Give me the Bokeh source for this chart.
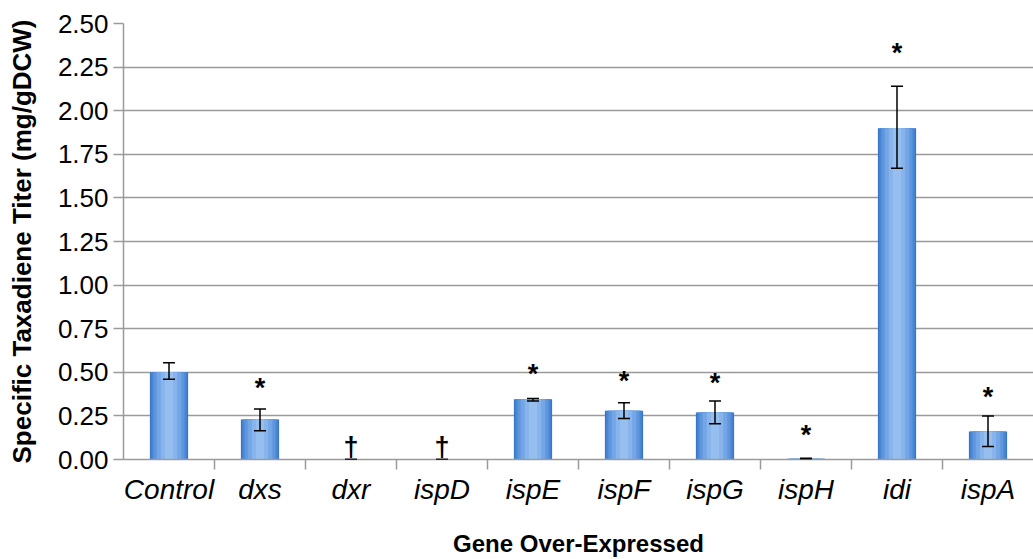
from bokeh.plotting import figure
from bokeh.models import ColumnDataSource, Range1d, FixedTicker, Whisker, NumeralTickFormatter, TeeHead
from bokeh.core.properties import value
from bokeh.embed import file_html
from bokeh.resources import INLINE

genes = ["Control", "dxs", "dxr", "ispD", "ispE", "ispF", "ispG", "ispH", "idi", "ispA"]
titer = [0.50, 0.23, 0.0, 0.0, 0.345, 0.28, 0.27, 0.005, 1.90, 0.16]
err_low = [0.46, 0.165, 0.0, 0.0, 0.335, 0.235, 0.205, 0.003, 1.67, 0.075]
err_high = [0.555, 0.29, 0.0, 0.0, 0.35, 0.325, 0.335, 0.007, 2.14, 0.25]
marks = ["", "*", "†", "†", "*", "*", "*", "*", "*", "*"]
mark_y = [0.0, 0.41, 0.07, 0.07, 0.49, 0.45, 0.44, 0.14, 2.33, 0.36]
y_ticks = [0.0, 0.25, 0.5, 0.75, 1.0, 1.25, 1.5, 1.75, 2.0, 2.25, 2.5]

xs = list(range(len(genes)))
FONT = "Liberation Sans"
GRID = "#9a9a9a"

p = figure(width=1033, height=559, output_backend="svg", toolbar_location=None,
           x_range=Range1d(-0.5, len(genes) - 0.5), y_range=Range1d(0, 2.5),
           min_border_left=123, min_border_right=0, min_border_top=23, min_border_bottom=0)
p.outline_line_color = None
p.background_fill_color = "white"

# y axis
p.yaxis.ticker = FixedTicker(ticks=y_ticks, minor_ticks=[])
p.yaxis.formatter = NumeralTickFormatter(format="0.00")
p.yaxis.axis_line_color = GRID
p.yaxis.axis_line_width = 1.5
p.yaxis.major_tick_line_color = GRID
p.yaxis.major_tick_line_width = 1.5
p.yaxis.major_tick_out = 10
p.yaxis.major_tick_in = 0
p.yaxis.major_label_standoff = 5
p.yaxis.major_label_text_font = FONT
p.yaxis.major_label_text_font_size = "26px"
p.yaxis.major_label_text_color = "black"
p.yaxis.axis_label = "Specific Taxadiene Titer (mg/gDCW)"
p.yaxis.axis_label_text_font = FONT
p.yaxis.axis_label_text_font_style = "bold"
p.yaxis.axis_label_text_font_size = "26px"
p.yaxis.axis_label_text_color = "black"
p.yaxis.axis_label_standoff = 18

# x axis
p.xaxis.ticker = FixedTicker(ticks=xs, minor_ticks=[i + 0.5 for i in xs[:-1]])
p.xaxis.major_label_overrides = {i: g for i, g in zip(xs, genes)}
p.xaxis.major_tick_line_color = None
p.xaxis.minor_tick_line_color = GRID
p.xaxis.minor_tick_line_width = 1.5
p.xaxis.minor_tick_out = 10
p.xaxis.minor_tick_in = 0
p.xaxis.axis_line_color = GRID
p.xaxis.axis_line_width = 1.5
p.xaxis.major_label_standoff = 4
p.xaxis.major_label_text_font = FONT
p.xaxis.major_label_text_font_style = "italic"
p.xaxis.major_label_text_font_size = "28px"
p.xaxis.major_label_text_color = "black"
p.xaxis.axis_label = "Gene Over-Expressed"
p.xaxis.axis_label_text_font = FONT
p.xaxis.axis_label_text_font_style = "bold"
p.xaxis.axis_label_text_font_size = "24px"
p.xaxis.axis_label_text_color = "black"
p.xaxis.axis_label_standoff = 22

p.xgrid.grid_line_color = None
p.ygrid.ticker = FixedTicker(ticks=y_ticks)
p.ygrid.grid_line_color = GRID
p.ygrid.grid_line_width = 1.5

src = ColumnDataSource(dict(x=xs, top=titer, lo=err_low, hi=err_high, mark=marks, my=mark_y))

# bars with simulated horizontal gradient
layers = [(0.42, "#3a76c6"), (0.39, "#4a86d4"), (0.34, "#5e96de"), (0.27, "#74a6e6"), (0.18, "#87b4ec"), (0.09, "#96bff0")]
for w, c in layers:
    p.vbar(x="x", top="top", bottom=0, width=w, source=src, fill_color=c, line_color=None)

p.add_layout(Whisker(source=src, base="x", lower="lo", upper="hi", line_color="black", line_width=1.5,
                     level="overlay",
                     upper_head=TeeHead(size=12, line_color="black", line_width=1.5),
                     lower_head=TeeHead(size=12, line_color="black", line_width=1.5)))

p.text(x="x", y="my", text="mark", source=src, text_align="center", text_baseline="middle",
       text_font=value(FONT), text_font_size="27px", text_font_style="bold", text_color="black")

open("out.html", "w").write(file_html(p, INLINE))
